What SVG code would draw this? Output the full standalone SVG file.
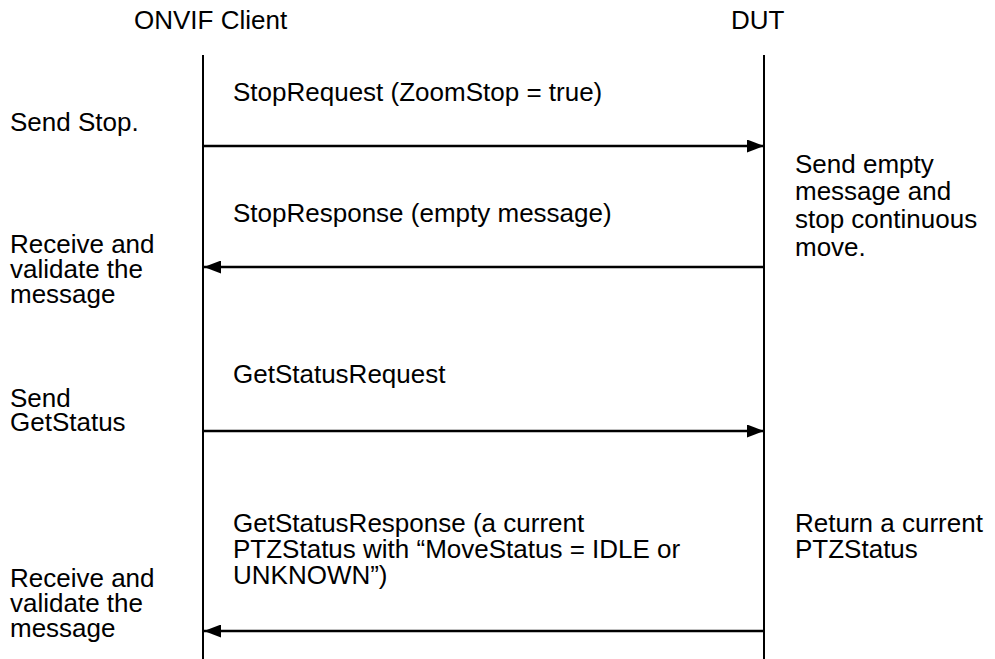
<svg xmlns="http://www.w3.org/2000/svg" width="995" height="659" viewBox="0 0 995 659">
<style>
text{font-family:"Liberation Sans",Arial,sans-serif;font-size:26px;fill:#000}
.life{stroke:#000;stroke-width:2;fill:none}
.msg{stroke:#000;stroke-width:2.5;fill:none}
</style>
<defs>
<marker id="ah" viewBox="0 0 17 13" refX="17" refY="6.5" markerWidth="17" markerHeight="13" markerUnits="userSpaceOnUse" orient="auto">
<path d="M0,0 L17,6.5 L0,13 Z" fill="#000"/>
</marker>
</defs>
<rect width="995" height="659" fill="#fff"/>
<g id="client">
<text x="134" y="29">ONVIF Client</text>
<line class="life" x1="203" y1="55" x2="203" y2="659"/>
</g>
<g id="dut">
<text x="731" y="29">DUT</text>
<line class="life" x1="764" y1="55" x2="764" y2="659"/>
</g>
<g id="notes-client">
<text x="10" y="131">Send Stop.</text>
<text x="10" y="253">Receive and</text>
<text x="10" y="278">validate the</text>
<text x="10" y="303">message</text>
<text x="10" y="407">Send</text>
<text x="10" y="431">GetStatus</text>
<text x="10" y="587">Receive and</text>
<text x="10" y="612">validate the</text>
<text x="10" y="637">message</text>
</g>
<g id="notes-dut">
<text x="795" y="173">Send empty</text>
<text x="795" y="200">message and</text>
<text x="795" y="228">stop continuous</text>
<text x="795" y="256">move.</text>
<text x="795" y="532">Return a current</text>
<text x="795" y="558">PTZStatus</text>
</g>
<g id="connectors">
<line class="msg" x1="203" y1="146" x2="764" y2="146" marker-end="url(#ah)"/>
<line class="msg" x1="764" y1="267" x2="204" y2="267" marker-end="url(#ah)"/>
<line class="msg" x1="203" y1="431" x2="764" y2="431" marker-end="url(#ah)"/>
<line class="msg" x1="764" y1="631" x2="204" y2="631" marker-end="url(#ah)"/>
</g>
<g id="labels">
<text x="233" y="101">StopRequest (ZoomStop = true)</text>
<text x="233" y="222">StopResponse (empty message)</text>
<text x="233" y="383">GetStatusRequest</text>
<text x="233" y="532">GetStatusResponse (a current</text>
<text x="233" y="558">PTZStatus with “MoveStatus = IDLE or</text>
<text x="233" y="584">UNKNOWN”)</text>
</g>
</svg>
